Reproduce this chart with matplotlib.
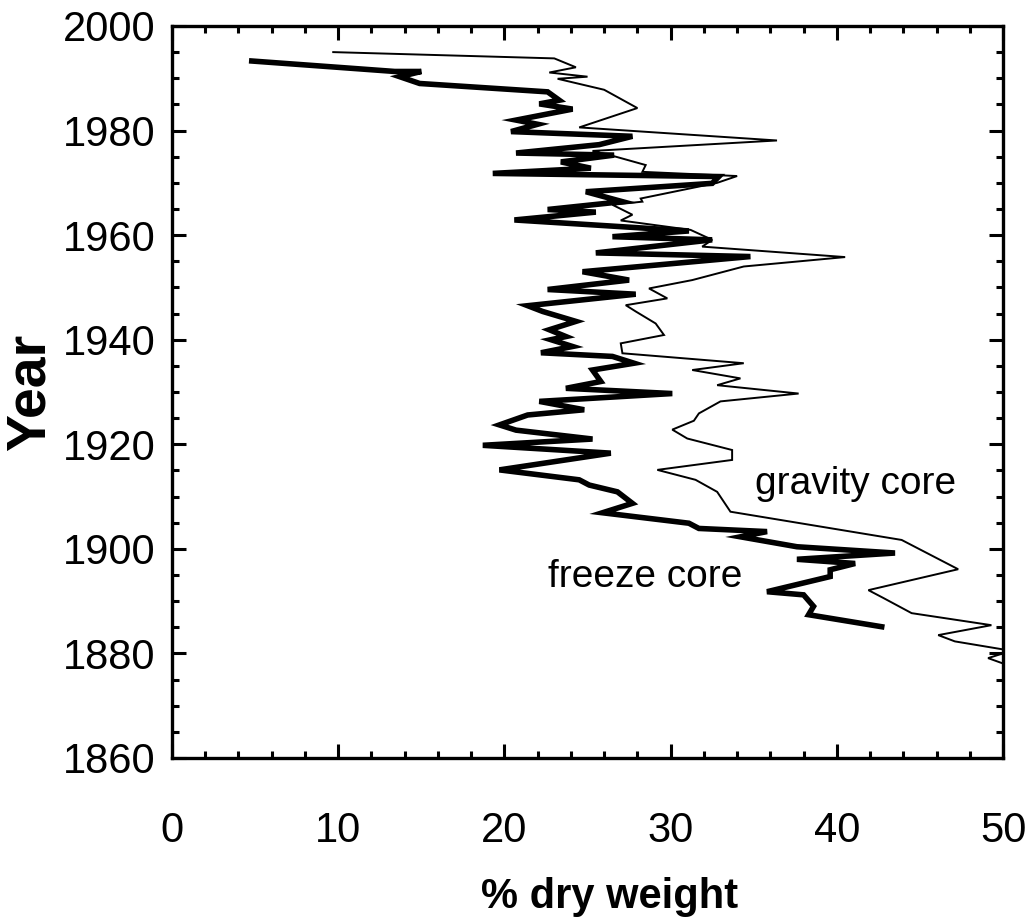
import matplotlib.pyplot as plt
from matplotlib.ticker import MultipleLocator

plt.rcParams['font.family'] = ['Liberation Sans', 'DejaVu Sans']

# gravity core (thin line): % dry weight vs year
gravity_pct = [9.7, 23.0, 24.3, 22.7, 25.0, 23.2, 26.0, 28.0, 24.5, 36.4,
               25.3, 26.7, 28.5, 28.3, 34.0, 32.8, 28.2, 28.3, 26.5, 27.7,
               27.0, 31.2, 32.5, 31.9, 40.5, 34.4, 31.3, 28.7, 29.8, 27.3,
               27.9, 29.1, 29.6, 27.0, 27.1, 34.4, 31.3, 34.2, 32.8, 37.7,
               33.0, 31.7, 31.4, 30.1, 31.0, 33.7, 33.7, 29.2, 31.5, 32.8,
               33.6, 43.9, 47.3, 41.9, 42.8, 44.5, 49.3, 46.1, 47.1, 50.5,
               49.1, 50.5]
gravity_year = [1995.0, 1993.8, 1992.1, 1991.1, 1990.3, 1989.9, 1987.8, 1984.3, 1980.6, 1978.1,
                1976.1, 1975.0, 1973.4, 1972.1, 1971.3, 1970.0, 1967.0, 1966.4, 1965.8, 1963.9,
                1962.8, 1961.0, 1959.1, 1957.8, 1955.8, 1954.0, 1951.4, 1949.8, 1947.9, 1946.6,
                1945.4, 1943.1, 1940.9, 1939.3, 1937.4, 1935.5, 1934.2, 1932.6, 1931.3, 1929.7,
                1928.2, 1925.9, 1924.5, 1922.8, 1921.1, 1918.9, 1917.0, 1915.1, 1913.2, 1910.9,
                1907.1, 1901.7, 1896.1, 1892.1, 1890.6, 1887.7, 1885.4, 1883.5, 1882.3, 1880.5,
                1879.1, 1877.5]

# freeze core (thick line)
freeze_pct = [4.8, 13.4, 15.0, 13.7, 14.9, 22.6, 23.3, 22.1, 24.1, 20.7,
              22.0, 20.4, 27.7, 25.7, 20.7, 26.6, 23.4, 25.2, 19.3, 32.9,
              32.5, 24.9, 27.1, 22.6, 25.5, 20.6, 31.1, 26.5, 32.5, 25.5,
              34.8, 24.7, 27.5, 22.6, 27.9, 21.4, 22.3, 24.3, 22.7, 23.7,
              22.8, 24.1, 22.2, 26.5, 27.8, 25.3, 25.8, 23.7, 30.1, 22.1,
              24.8, 21.4, 19.7, 20.7, 25.3, 18.7, 26.4, 19.7, 24.5, 25.1,
              26.8, 27.7, 25.9, 31.1, 31.7, 35.8, 34.2, 37.6, 43.5, 37.6,
              41.1, 39.6, 39.6, 35.8, 38.0, 38.6, 38.3, 42.7]
freeze_year = [1993.3, 1991.3, 1991.3, 1990.3, 1989.0, 1987.4, 1985.8, 1985.1, 1984.1, 1982.0,
               1981.2, 1979.8, 1978.9, 1977.3, 1975.7, 1975.3, 1974.0, 1972.8, 1971.8, 1971.2,
               1969.9, 1968.3, 1966.4, 1964.9, 1964.4, 1962.9, 1960.8, 1959.7, 1959.1, 1956.6,
               1955.9, 1953.0, 1951.4, 1949.6, 1948.7, 1946.5, 1945.4, 1943.5, 1941.9, 1940.6,
               1940.0, 1938.7, 1937.5, 1936.8, 1935.5, 1934.2, 1932.0, 1930.7, 1929.7, 1928.2,
               1926.6, 1925.6, 1923.7, 1922.7, 1921.0, 1919.8, 1918.3, 1915.1, 1913.2, 1912.2,
               1910.9, 1908.7, 1906.9, 1904.9, 1903.9, 1903.3, 1902.3, 1900.4, 1899.2, 1898.0,
               1897.2, 1896.0, 1894.7, 1891.8, 1891.2, 1889.0, 1887.4, 1885.1]

fig = plt.figure(figsize=(10.33, 9.21), dpi=100)
ax = fig.add_axes([0.1665, 0.177, 0.8045, 0.7948])

ax.plot(gravity_pct, gravity_year, color='black', linewidth=1.4, solid_joinstyle='miter')
ax.plot(freeze_pct, freeze_year, color='black', linewidth=4.0, solid_joinstyle='miter')

ax.text(35.1, 1912.4, 'gravity core', fontsize=28, va='center', ha='left')
ax.text(22.6, 1894.6, 'freeze core', fontsize=28, va='center', ha='left')

ax.set_xlim(0, 50)
ax.set_ylim(1860, 2000)
ax.xaxis.set_major_locator(MultipleLocator(10))
ax.xaxis.set_minor_locator(MultipleLocator(2))
ax.yaxis.set_major_locator(MultipleLocator(20))
ax.yaxis.set_minor_locator(MultipleLocator(5))

ax.tick_params(which='both', direction='in', top=True, right=True, width=2.2)
ax.tick_params(which='major', length=10)
ax.tick_params(which='minor', length=5)
ax.tick_params(axis='x', which='major', labelsize=30, pad=38)
ax.tick_params(axis='y', which='major', labelsize=30, pad=12)
for s in ax.spines.values():
    s.set_linewidth(2.4)

ax.set_xlabel('% dry weight', fontsize=30, fontweight='bold')
ax.xaxis.set_label_coords(0.527, -0.162)
ax.set_ylabel('Year', fontsize=40, fontweight='bold', labelpad=4)

plt.savefig('out.png', dpi=100)
